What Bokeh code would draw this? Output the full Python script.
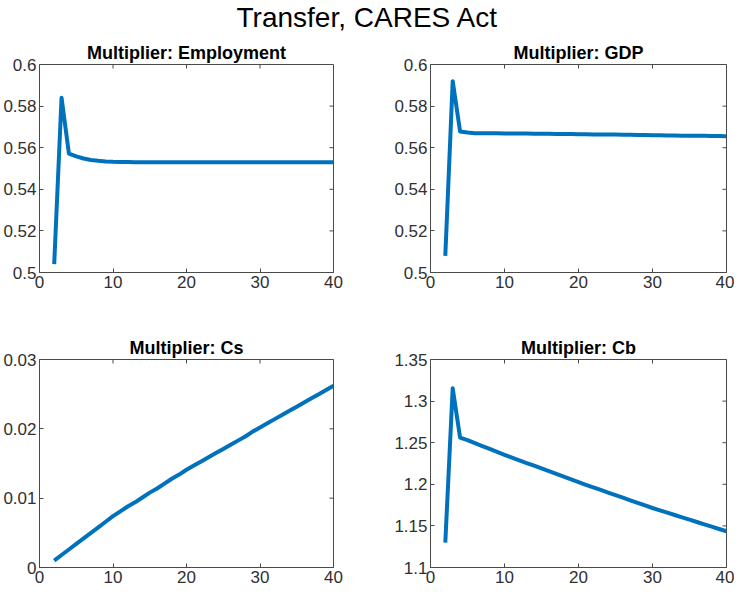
import math
from bokeh.plotting import figure
from bokeh.layouts import column, row
from bokeh.models import Range1d, FixedTicker
from bokeh.embed import file_html
from bokeh.resources import INLINE
from bokeh.core.properties import value

main_title = "Transfer, CARES Act"

periods = [2, 3, 4, 5, 6, 7, 8, 9, 10, 11, 12, 13, 14, 15, 16, 17, 18, 19, 20, 21,
           22, 23, 24, 25, 26, 27, 28, 29, 30, 31, 32, 33, 34, 35, 36, 37, 38, 39, 40]

employment = [0.504, 0.584, 0.5572, 0.5558, 0.5548, 0.5541, 0.5537, 0.5534, 0.5532, 0.5531,
              0.5531, 0.5530, 0.5530, 0.5530, 0.5530, 0.5530, 0.5530, 0.5530, 0.5530, 0.5530,
              0.5530, 0.5530, 0.5530, 0.5530, 0.5530, 0.5530, 0.5530, 0.5530, 0.5530, 0.5530,
              0.5530, 0.5530, 0.5530, 0.5530, 0.5530, 0.5530, 0.5530, 0.5530, 0.5530]

gdp = [0.508, 0.592, 0.5678, 0.5673, 0.5670, 0.5669, 0.5669, 0.5669, 0.5668, 0.5668,
       0.5668, 0.5668, 0.5667, 0.5667, 0.5667, 0.5666, 0.5666, 0.5666, 0.5665, 0.5665,
       0.5664, 0.5664, 0.5663, 0.5663, 0.5662, 0.5662, 0.5661, 0.5661, 0.5660, 0.5660,
       0.5659, 0.5659, 0.5658, 0.5658, 0.5657, 0.5657, 0.5656, 0.5656, 0.5655]

cs = [0.0010, 0.0018, 0.0026, 0.0034, 0.0042, 0.0050, 0.0058, 0.0066, 0.0074, 0.0081,
      0.0088, 0.0094, 0.0101, 0.0108, 0.0114, 0.0121, 0.0128, 0.0134, 0.0141, 0.0147,
      0.0153, 0.0159, 0.0165, 0.0171, 0.0177, 0.0183, 0.0189, 0.0196, 0.0202, 0.0208,
      0.0214, 0.0220, 0.0226, 0.0232, 0.0238, 0.0244, 0.0250, 0.0256, 0.0262]

cb = [1.130, 1.3155, 1.256, 1.253, 1.2495, 1.246, 1.2425, 1.239, 1.2355, 1.2322,
      1.2289, 1.2256, 1.2223, 1.2190, 1.2157, 1.2124, 1.2091, 1.2058, 1.2025, 1.1994,
      1.1963, 1.1932, 1.1901, 1.1870, 1.1839, 1.1808, 1.1777, 1.1746, 1.1715, 1.1687,
      1.1659, 1.1631, 1.1603, 1.1575, 1.1547, 1.1519, 1.1491, 1.1463, 1.1435]

x_ticks = [0, 10, 20, 30, 40]
x_tick_labels = ["0", "10", "20", "30", "40"]

emp_ticks = [0.5, 0.52, 0.54, 0.56, 0.58, 0.6]
emp_labels = ["0.5", "0.52", "0.54", "0.56", "0.58", "0.6"]
cs_ticks = [0, 0.01, 0.02, 0.03]
cs_labels = ["0", "0.01", "0.02", "0.03"]
cb_ticks = [1.1, 1.15, 1.2, 1.25, 1.3, 1.35]
cb_labels = ["1.1", "1.15", "1.2", "1.25", "1.3", "1.35"]

FONT = "Liberation Sans"
AX_COL = "#4a4a4a"
TXT_COL = "#303030"
LINE_COL = "#0072BD"
X_LO, X_HI = 0, 40


def style_axis(ax, ticks, labels):
    ax.ticker = FixedTicker(ticks=ticks)
    ax.major_label_overrides = {t: l for t, l in zip(ticks, labels)}
    ax.major_tick_in = 4
    ax.major_tick_out = 0
    ax.minor_tick_in = 0
    ax.minor_tick_out = 0
    ax.axis_line_color = AX_COL
    ax.major_tick_line_color = AX_COL
    ax.major_label_text_font = FONT
    ax.major_label_text_color = TXT_COL
    ax.major_label_text_font_size = "17px"
    ax.major_label_standoff = 3


def panel(title, ys, y_lo, y_hi, yticks, ylabels, width, height, bl, br, bt, bb):
    p = figure(width=width, height=height, x_range=Range1d(X_LO, X_HI),
               y_range=Range1d(y_lo, y_hi), toolbar_location=None,
               output_backend="svg", min_border_left=bl, min_border_right=br,
               min_border_top=bt, min_border_bottom=bb, title=title)
    p.line(periods, ys, line_color=LINE_COL, line_width=4,
           line_join="round", line_cap="butt")
    # mirrored inward ticks on the top and right edges of the box
    p.ray(x=x_ticks, y=[y_hi] * len(x_ticks), length=4, length_units="screen",
          angle=-math.pi / 2, line_color=AX_COL, line_width=1)
    p.ray(x=[X_HI] * len(yticks), y=yticks, length=4, length_units="screen",
          angle=math.pi, line_color=AX_COL, line_width=1)
    p.xgrid.visible = False
    p.ygrid.visible = False
    p.outline_line_color = AX_COL
    p.outline_line_width = 1
    p.background_fill_color = "white"
    p.border_fill_color = "white"
    style_axis(p.below[0], x_ticks, x_tick_labels)
    style_axis(p.left[0], yticks, ylabels)
    p.title.align = "center"
    p.title.text_font = FONT
    p.title.text_font_size = "18px"
    p.title.text_font_style = "bold"
    p.title.text_color = "black"
    p.title.standoff = 3
    return p


HEAD_H = 36
head = figure(width=734, height=HEAD_H, x_range=Range1d(0, 1), y_range=Range1d(0, 1),
              toolbar_location=None, output_backend="svg", min_border=0)
head.axis.visible = False
head.grid.visible = False
head.outline_line_color = None
head.text(x=[0.5], y=[1.0], text=[main_title], text_align="center",
          text_baseline="top", y_offset=1, text_font=value(FONT),
          text_font_size="28px", text_color="black")

FW = 296
FH = 208
LW = 37 + FW + 52
RW = 45 + FW + 8
TOP_BT = 64 - HEAD_H
TOPH = TOP_BT + FH + 44
BOTH = 43 + FH + 24

p1 = panel("Multiplier: Employment", employment, 0.5, 0.6, emp_ticks, emp_labels,
           LW, TOPH, 37, 52, TOP_BT, 44)
p2 = panel("Multiplier: GDP", gdp, 0.5, 0.6, emp_ticks, emp_labels,
           RW, TOPH, 45, 8, TOP_BT, 44)
p3 = panel("Multiplier: Cs", cs, 0, 0.03, cs_ticks, cs_labels,
           LW, BOTH, 37, 52, 43, 24)
p4 = panel("Multiplier: Cb", cb, 1.1, 1.35, cb_ticks, cb_labels,
           RW, BOTH, 45, 8, 43, 24)

layout = column(head, row(p1, p2), row(p3, p4))

open("out.html", "w").write(file_html(layout, INLINE))
